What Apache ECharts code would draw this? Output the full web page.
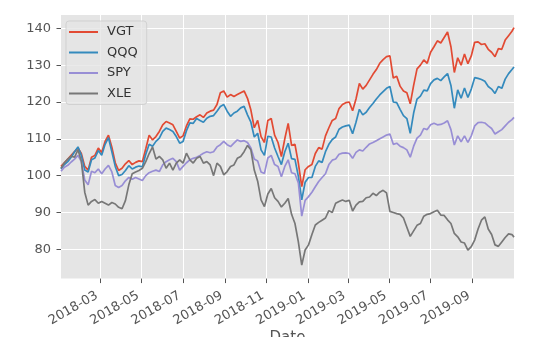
<!DOCTYPE html>
<html>
<head>
<meta charset="utf-8">
<script src="https://cdn.jsdelivr.net/npm/echarts@6/dist/echarts.min.js"></script>
<style>
html,body{margin:0;padding:0;background:#fff;}
#c{width:534px;height:337px;}
</style>
</head>
<body>
<div id="c"></div>
<script>
const dates = [
'2018-01-02','2018-01-07','2018-01-12','2018-01-17','2018-01-22','2018-01-27',
'2018-02-01','2018-02-06','2018-02-11','2018-02-16','2018-02-21','2018-02-26',
'2018-03-03','2018-03-08','2018-03-13','2018-03-18','2018-03-23','2018-03-28',
'2018-04-02','2018-04-07','2018-04-12','2018-04-17','2018-04-22','2018-04-27',
'2018-05-02','2018-05-07','2018-05-12','2018-05-17','2018-05-22','2018-05-27',
'2018-06-01','2018-06-06','2018-06-11','2018-06-16','2018-06-21','2018-06-26',
'2018-07-01','2018-07-06','2018-07-11','2018-07-16','2018-07-21','2018-07-26','2018-07-31',
'2018-08-05','2018-08-10','2018-08-15','2018-08-20','2018-08-25','2018-08-30',
'2018-09-04','2018-09-09','2018-09-14','2018-09-19','2018-09-24','2018-09-29',
'2018-10-04','2018-10-09','2018-10-14','2018-10-19','2018-10-24','2018-10-29',
'2018-11-03','2018-11-08','2018-11-13','2018-11-18','2018-11-23','2018-11-28',
'2018-12-03','2018-12-08','2018-12-13','2018-12-18','2018-12-23','2018-12-28',
'2019-01-02','2019-01-07','2019-01-12','2019-01-17','2019-01-22','2019-01-27',
'2019-02-01','2019-02-06','2019-02-11','2019-02-16','2019-02-21','2019-02-26',
'2019-03-03','2019-03-08','2019-03-13','2019-03-18','2019-03-23','2019-03-28',
'2019-04-02','2019-04-07','2019-04-12','2019-04-17','2019-04-22','2019-04-27',
'2019-05-02','2019-05-07','2019-05-12','2019-05-17','2019-05-22','2019-05-27',
'2019-06-01','2019-06-06','2019-06-11','2019-06-16','2019-06-21','2019-06-26',
'2019-07-01','2019-07-06','2019-07-11','2019-07-16','2019-07-21','2019-07-26','2019-07-31',
'2019-08-05','2019-08-10','2019-08-15','2019-08-20','2019-08-25','2019-08-30',
'2019-09-04','2019-09-09','2019-09-14','2019-09-19','2019-09-24','2019-09-29',
'2019-10-04','2019-10-09','2019-10-14','2019-10-19','2019-10-24','2019-10-29','2019-11-01'
];

const vgt = [
102.5,103.5,104.5,105.5,106.5,107.5,
106,102.5,101.5,105,105.5,107.5,
106.3,109.3,111,107.7,103.5,101.4,
102,103.2,104.1,103,103.6,104,
103.8,107.3,111,109.7,110.6,112,
113.8,114.7,114.3,113.8,112,110.2,
110.8,113.5,115.4,115.3,116,116.5,115.8,
117,117.5,117.8,119.3,122.5,123,
121.3,122,121.5,122,122.5,123,
121,117.8,113,115,110.6,109,
115,115.5,111,109,105.2,110,
114.2,108.2,108.5,103.4,97,101.6,
102.5,103,106,107.6,107.2,110.8,
113,115,115.5,118.2,119.3,119.8,
120,117.6,120.8,125,123.5,124.5,
126,127.5,128.8,130.5,131.5,132.3,
132.5,126.5,127,124.3,123,122.5,
119.5,124.5,129,130,131.4,130.5,
133.5,135,136.6,136,137.5,139,135,
128,132,130,133,130.4,132.5,
136.2,136.3,135.6,135.8,134.3,133.5,
132.3,134.5,134.3,136.8,138,139.2,140.2
];

const qqq = [
101.8,103,103.8,105,106.5,107.8,
105.5,101.5,101,104.3,104.8,106.8,
105.5,108.5,110.3,106.5,102.5,100,
100.3,101.4,102.7,101.8,102.3,102.6,
102.4,105.8,108.5,108,109.3,110.2,
112,112.9,112.5,112,110.6,108.8,
109.3,112.2,114.3,114.2,115.5,115,114.5,
115.6,116.1,116.3,117.5,118.8,119.3,
117.5,116.1,117,117.5,118.4,118.8,
116.5,114.5,110.5,111.5,107,105.5,
110.7,110.5,107.5,105.2,103,106.5,
108.8,104.6,104.4,99.8,93.4,98.2,
99.5,99.5,102.5,104,103.6,106.5,
108.5,109.8,110.5,112.6,113.2,113.5,
113.7,111.4,114.5,118,116.5,117.2,
118.5,119.6,120.8,121.9,122.8,123.7,
124.2,120,119.8,118,116.3,115.5,
111.5,117,120.8,121.6,123.2,123,
125,126,126.4,125.8,126.8,127.7,124.5,
118.3,123.3,121,123.8,121.2,123.5,
126.6,126.4,126.1,125.6,124.2,123.5,
122.3,124.2,123.7,126.2,127.7,128.8,129.5
];

const spy = [
101.2,102.3,102.8,103.7,104.5,105.5,
103.8,98.8,97.5,101.2,100.8,101.8,
100.5,101.8,102.8,101,97.3,96.8,
97.3,98.6,99.5,99,99.5,99.1,
98.7,100,100.8,101.2,101.5,101.1,
102.9,103.8,104.3,104.7,103.8,101.5,
102.5,103.5,104.3,104.7,105,105.5,106.1,
106.5,106.2,106.5,107.8,108.4,109.3,
108.4,107.9,108.8,109.7,109.3,109.5,
109,107.5,104.5,104,101,100.6,
104.8,105.5,103,102.5,99.7,102.5,
104.3,100.8,100.5,98,89,93.3,
94.3,95.5,97,98.4,99.5,100.5,
103,104.2,104.5,105.8,106.1,106.2,
106,104.7,106.3,107,106.7,107.7,
108.6,109,109.5,110,110.5,111,
111.3,108.5,108.8,108,107.6,107,
105,108,110.2,111,112.8,112.5,
113.8,114.2,113.8,113.9,114.3,114.9,112.5,
108.3,110.8,109.2,110.8,109,110.8,
113.5,114.4,114.5,114.3,113.5,112.8,
111.3,111.9,112.5,113.5,114.5,115.2,115.8
];

const xle = [
102,103.5,104.5,105.3,105,107,
104,95.5,92,93,93.5,92.5,
93,92.5,92,92.7,92.3,91.4,
91,93.2,97.5,100.5,101,101.4,
102,103.8,106,107.8,104.5,105.2,
104.3,102,103.4,101.5,103.4,104.3,
103.4,106.1,104.3,103.4,104.7,105.2,103.4,
103.8,102.9,100,103.4,102.5,100.2,
101.1,102.5,102.9,104.7,105.2,106.5,
108.2,107,101.5,98.5,93.4,91.6,
95,96.5,94,93,91.5,92.5,
93.8,89.5,87,82,75.7,79.8,
81.2,84,86.6,87.3,87.9,88.5,
90.5,90,92.5,93,93.4,93,
93.3,90.4,92,92.9,93,94,
94.2,95.2,94.6,95.5,96,95.3,
90.3,90,89.7,89.5,88.5,86,
83.5,85,86.5,87,89,89.5,
89.7,90.2,90.6,89.3,89.2,88,87,
84.3,83.4,82,81.7,79.8,80.7,
82.5,85.5,87.9,88.8,85.5,84,
81.2,80.8,82,83.2,84.2,84,83.3
];

const seriesNames = ['VGT', 'QQQ', 'SPY', 'XLE'];
const seriesColors = ['#E24A33', '#348ABD', '#988ED5', '#777777'];
const yTicks = [80, 90, 100, 110, 120, 130, 140];
const xTicks = ['2018-03-01','2018-05-01','2018-07-01','2018-09-01','2018-11-01',
                '2019-01-01','2019-03-01','2019-05-01','2019-07-01','2019-09-01'];
const xAxisTitle = 'Date';

const FONT = 'DejaVu Sans';
const Y_MIN = 72.05, Y_MAX = 143.6;
const WANT_Y80 = 249.3, WANT_Y140 = 28.3;
const chart = echarts.init(document.getElementById('c'), null, {renderer: 'canvas'});
const values = [vgt, qqq, spy, xle];
const toTs = s => { const p = s.split('-').map(Number); return Date.UTC(p[0], p[1] - 1, p[2]); };
const pad = n => (n < 10 ? '0' : '') + n;

let gridTop = 15, gridBottom = 59;

chart.setOption({
  animation: false,
  backgroundColor: '#ffffff',
  textStyle: {fontFamily: FONT},
  grid: {
    left: 61, right: 20, top: gridTop, bottom: gridBottom,
    outerBoundsMode: 'none',
    containLabel: false,
    show: true, backgroundColor: '#E5E5E5', borderWidth: 0
  },
  graphic: [{
    type: 'text',
    x: 287.5, y: 331,
    silent: true,
    style: {text: xAxisTitle, fontFamily: FONT, fontSize: 15, fill: '#555', textAlign: 'center', textVerticalAlign: 'top'}
  }],
  legend: {
    orient: 'vertical',
    left: 66, top: 21,
    data: seriesNames,
    icon: 'rect',
    itemWidth: 29, itemHeight: 2,
    itemGap: 6.5,
    selectedMode: false,
    padding: [4, 9, 4, 3],
    backgroundColor: 'rgba(229,229,229,0.8)',
    borderColor: 'rgba(204,204,204,0.8)',
    borderWidth: 1,
    borderRadius: 3,
    textStyle: {fontFamily: FONT, fontSize: 13, color: '#333', lineHeight: 14, padding: [0, 0, 0, 4]}
  },
  xAxis: {
    type: 'value',
    min: toTs(dates[0]),
    max: toTs(dates[dates.length - 1]),
    axisLine: {show: false},
    axisTick: {show: true, length: 4.5, lineStyle: {color: '#555', width: 1}, customValues: xTicks.map(toTs)},
    axisLabel: {
      customValues: xTicks.map(toTs),
      rotate: 30,
      margin: 14,
      padding: [0, 4, 0, 0],
      fontFamily: FONT, fontSize: 13, color: '#555',
      hideOverlap: false,
      formatter: function (v) { const d = new Date(v); return d.getUTCFullYear() + '-' + pad(d.getUTCMonth() + 1); }
    },
    splitLine: {show: true, lineStyle: {color: '#ffffff', width: 1}}
  },
  yAxis: {
    type: 'value',
    min: Y_MIN, max: Y_MAX,
    axisLine: {show: false},
    axisTick: {show: true, length: 4.5, lineStyle: {color: '#555', width: 1}, customValues: yTicks},
    axisLabel: {customValues: yTicks, margin: 10, fontFamily: FONT, fontSize: 13, color: '#555'},
    splitLine: {show: true, lineStyle: {color: '#ffffff', width: 1}}
  },
  series: seriesNames.map((name, k) => ({
    name: name,
    type: 'line',
    showSymbol: false,
    symbol: 'none',
    color: seriesColors[k],
    lineStyle: {width: 1.7, color: seriesColors[k]},
    emphasis: {disabled: true},
    data: dates.map((d, i) => [toTs(d), values[k][i]])
  }))
});

// Correct any automatic shrinking of the plot area so the value axis lands where the reference has it.
try {
  for (let it = 0; it < 6; it++) {
    const y80 = chart.convertToPixel({yAxisIndex: 0}, 80);
    const y140 = chart.convertToPixel({yAxisIndex: 0}, 140);
    if (!isFinite(y80) || !isFinite(y140)) break;
    const scale = (y80 - y140) / 60;            // px per unit now
    const wantScale = (WANT_Y80 - WANT_Y140) / 60;
    const curTopPx = y140 - (Y_MAX - 140) * scale;
    const curBotPx = y80 + (80 - Y_MIN) * scale;
    const wantTopPx = WANT_Y140 - (Y_MAX - 140) * wantScale;
    const wantBotPx = WANT_Y80 + (80 - Y_MIN) * wantScale;
    const dTop = wantTopPx - curTopPx, dBot = wantBotPx - curBotPx;
    if (Math.abs(dTop) < 0.3 && Math.abs(dBot) < 0.3) break;
    gridTop += dTop;
    gridBottom -= dBot;
    chart.setOption({grid: {top: gridTop, bottom: gridBottom}});
  }
} catch (e) {}
</script>
</body>
</html>
